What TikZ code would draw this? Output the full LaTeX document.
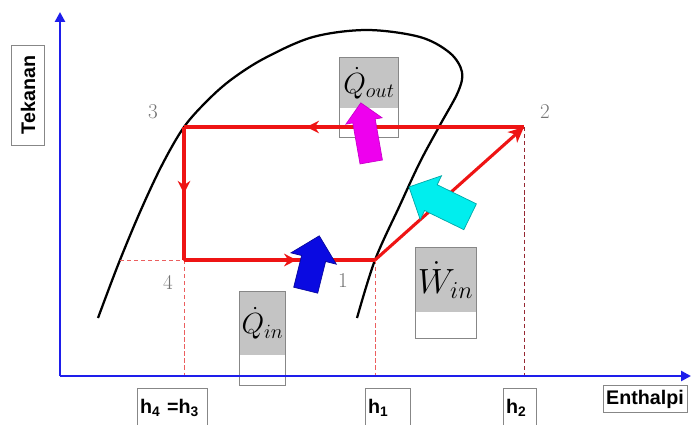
\documentclass[tikz,border=0pt]{standalone}
\usepackage{fontspec}
\setsansfont{Liberation Sans}
\usepackage{amsmath}
\usepackage{tikz}
\usetikzlibrary{arrows.meta, positioning, calc, shapes.arrows, decorations.markings}
\definecolor{axisblue}{RGB}{30,30,235}
\definecolor{cyclered}{RGB}{238,20,20}
\definecolor{dashred}{RGB}{235,95,95}
\definecolor{dashdark}{RGB}{150,40,50}
\definecolor{boxgray}{RGB}{196,196,196}
\definecolor{framegray}{RGB}{135,135,135}
\definecolor{mymagenta}{RGB}{238,0,238}
\definecolor{mycyan}{RGB}{0,238,238}
\definecolor{myblue}{RGB}{10,10,225}
\tikzset{
  axisline/.style={line width=1.8pt, color=axisblue, -{Triangle[length=7pt,width=7pt]}},
  redline/.style={line width=2.2pt, color=cyclered},
  dashline/.style={line width=0.6pt, color=dashred, dash pattern=on 3pt off 2pt},
  dome/.style={line width=1.6pt, color=black},
  midarrow/.style={postaction={decorate}, decoration={markings,
    mark=at position #1 with {\arrow{Stealth[length=9pt,width=9pt,inset=3pt]}}}},
  lblbox/.style={draw=framegray, line width=0.4pt, inner sep=2pt,
    font=\sffamily\bfseries\fontsize{14}{14}\selectfont},
  hbox/.style={lblbox, anchor=north west, minimum height=1cm, align=left, text width=#1},
  heatbox/.style={fill=boxgray, inner sep=0pt, font=\fontsize{20}{22}\selectfont}
}

\begin{document}
\begin{tikzpicture}[x=0.025cm, y=-0.025cm,
  ptlabel/.style={font=\fontsize{15}{15}\selectfont, text=black!55},
  bigarrow/.style={single arrow, inner xsep=0pt, line width=0.5pt}
]
\useasboundingbox (0,0) rectangle (692,424);
\clip (0,0) rectangle (692,424);

%--- axis labels ---
\node[lblbox, rotate=90, minimum width=2.5cm, minimum height=0.82cm] (tek) at (28,95) {Tekanan};
\node[lblbox, minimum width=2.1cm, minimum height=0.68cm] (ent) at (645,399) {Enthalpi};
\node[hbox=1.6cm] (h43) at (137,388) {h\textsubscript{4} =h\textsubscript{3}};
\node[hbox=0.98cm] (h1) at (365,388) {h\textsubscript{1}};
\node[hbox=0.68cm] (h2) at (503,388) {h\textsubscript{2}};

%--- heat / work boxes ---
\node[heatbox, minimum width=1.45cm, minimum height=1.25cm] (qout) at (369,83) {$\dot{Q}_{out}$};
\draw[framegray, line width=0.4pt] (qout.north west) rectangle ($(qout.south east)+(0,29)$);
\node[heatbox, minimum width=1.125cm, minimum height=1.575cm] (qin) at (262.5,323.5) {$\dot{Q}_{in}$};
\draw[framegray, line width=0.4pt] (qin.north west) rectangle ($(qin.south east)+(0,30)$);
\node[heatbox, minimum width=1.5cm, minimum height=1.6cm, font=\fontsize{23}{25}\selectfont] (win) at (445.5,280) {$\dot{W}_{in}$};
\draw[framegray, line width=0.4pt] (win.north west) rectangle ($(win.south east)+(0,26)$);

%--- saturation dome ---
\draw[dome] plot[smooth, tension=0.55] coordinates {(98,318) (118,265) (140,212) (162,165)
  (184,127) (208,100) (232,79) (265,58) (313,37) (367,30) (420,37) (450,53) (462,72)
  (458,92) (440,125) (420,162) (400,205) (375,260) (357,318)};

% state points
\coordinate (p1) at (375,260);
\coordinate (p2) at (524,127);
\coordinate (p3) at (184,127);
\coordinate (p4) at (184,260);
\coordinate (d4) at (120,260);
\coordinate (O) at (60,376);
\coordinate (ytop) at (60,12);
\coordinate (xend) at (691,376);

%--- guide lines ---
\draw[dashline] (d4) -- (p4);
\draw[dashline] (p4) -- (p4 |- O);
\draw[dashline] (p1) -- (p1 |- O);
\draw[dashline, color=dashdark] (p2) -- (p2 |- O);

%--- axes ---
\draw[axisline] (O) -- (ytop);
\draw[axisline] (O) -- (xend);

%--- cycle ---
\draw[redline, midarrow=0.64] (p2) -- (p3);
\draw[redline, midarrow=0.5] (p3) -- (p4);
\draw[redline, midarrow=0.59] (p4) -- (p1);
\draw[redline, -{Stealth[length=11pt,width=10pt,inset=3pt]}] (p1) -- (p2);

%--- heat / work arrows ---
\node[bigarrow, fill=mymagenta, draw=mymagenta!85!black, minimum height=1.5cm,
  inner ysep=0.275cm, single arrow head extend=0.175cm, rotate=100] (aout) at (367,138) {};
\node[bigarrow, fill=myblue, draw=myblue!70!black, minimum height=1.4cm,
  inner ysep=0.3cm, single arrow head extend=0.275cm, rotate=76] (ain) at (311,269) {};
\node[bigarrow, fill=mycyan, draw=mycyan!70!black, minimum height=1.7cm,
  inner ysep=0.35cm, single arrow head extend=0.25cm, rotate=154] (awork) at (446,205) {};

%--- point numbers ---
\node[ptlabel] (n3) at (153,112) {3};
\node[ptlabel] (n2) at (545,112) {2};
\node[ptlabel] (n4) at (168,282) {4};
\node[ptlabel] (n1) at (343,281) {1};
\end{tikzpicture}
\end{document}
